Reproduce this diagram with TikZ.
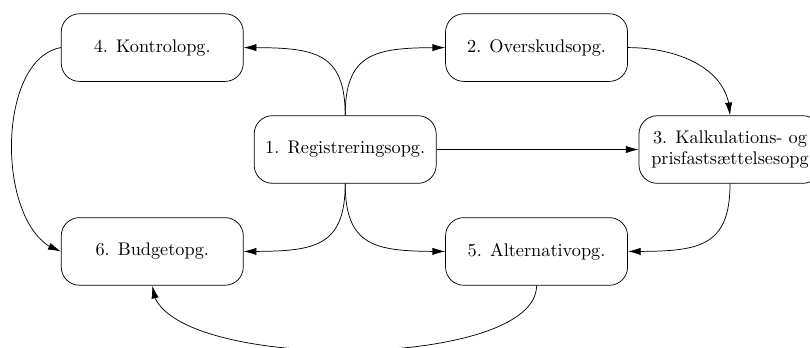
\documentclass[tikz,border=0pt]{standalone}
\usepackage{amsmath, amssymb}
\usepackage{xcolor}
\usepackage{tikz}
\usetikzlibrary{arrows.meta, bending, positioning}

\begin{document}
\begin{tikzpicture}[>={Latex[length=7pt,width=4pt]},
  opg/.style={draw, rounded corners=0.35cm, minimum width=3.5cm, minimum height=1.3cm, align=center}]
\clip (-6.638,-3.798) rectangle (8.938,2.875);

\node[opg] (reg) at (0,0) {1. Registreringsopg.};
\node[opg] (kon) at (-3.71,1.96) {4. Kontrolopg.};
\node[opg] (ovs) at (3.68,1.96) {2. Overskudsopg.};
\node[opg] (kal) at (7.40,0) {3. Kalkulations- og\\prisfastsættelsesopg};
\node[opg] (bud) at (-3.71,-1.96) {6. Budgetopg.};
\node[opg] (alt) at (3.68,-1.96) {5. Alternativopg.};

\draw[->] (reg.north) to[out=90, in=0, looseness=1.4] (kon.east);
\draw[->] (reg.north) to[out=90, in=180, looseness=1.4] (ovs.west);
\draw[->] (ovs.east) to[out=0, in=90] (kal.north);
\draw[->] (reg) -- (kal);
\draw[->] (kal.south) to[out=-90, in=0, looseness=1.4] (alt.east);
\draw[->] (reg.south) to[out=-90, in=0, looseness=1.4] (bud.east);
\draw[->] (reg.south) to[out=-90, in=180, looseness=1.4] (alt.west);
\draw[->] (kon.west) to[out=190, in=165, looseness=0.85] (bud.west);
\draw[->] (alt.south) to[out=-90, in=-90, looseness=0.58] (bud.south);

\end{tikzpicture}
\end{document}
